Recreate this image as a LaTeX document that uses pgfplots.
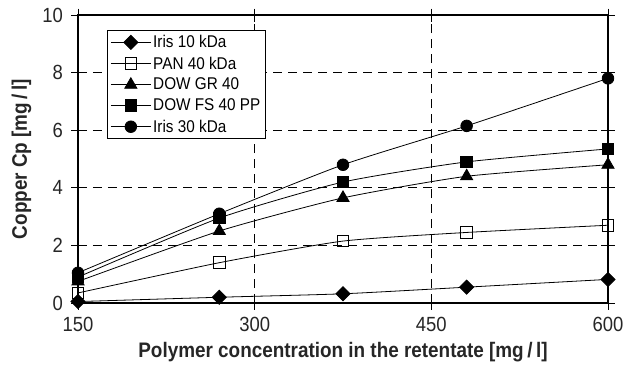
\documentclass[border=0pt]{standalone}
\usepackage{pgfplots}
\pgfplotsset{compat=1.18}
\usepackage{fontspec}
\setmainfont{Liberation Sans}[FakeStretch=0.9]
\begin{document}
\begin{tikzpicture}
% page frame around the 530 x 288 plot area
\useasboundingbox (-78pt,-62pt) rectangle (546pt,303pt);
\begin{axis}[
  scale only axis,
  width=530pt, height=288pt,
  xmin=150, xmax=600, ymin=0, ymax=10,
  xtick={150,300,450,600},
  ytick={0,2,4,6,8,10},
  tick align=center,
  major tick length=13pt,
  tick style={black, line width=0.9pt},
  axis line style={black, line width=1.1pt},
  grid=major,
  major grid style={dashed, dash pattern=on 9pt off 6pt, black, line width=0.9pt},
  /pgf/number format/assume math mode=true,
  ticklabel style={font=\fontsize{20.5}{22}\selectfont, text=black!85},
  xticklabel style={anchor=north, yshift=-4pt},
  yticklabel style={anchor=east, xshift=-5pt},
  xlabel={\textbf{Polymer concentration in the retentate [mg\,/\,l]}},
  ylabel={\textbf{Copper Cp [mg\,/\,l]}},
  every axis x label/.style={at={([yshift=-49pt]axis description cs:0.5,0)}, anchor=center,
    font=\fontsize{21}{23}\selectfont, text=black!85},
  every axis y label/.style={at={([xshift=-56.5pt]axis description cs:0,0.5)}, rotate=90, anchor=center,
    font=\fontsize{21}{23}\selectfont, text=black!85},
  legend style={at={(0.0547,0.948)}, anchor=north west, draw=black, line width=0.9pt,
    font=\fontsize{17}{19}\selectfont, row sep=3.5pt, fill=white,
    inner xsep=3pt, inner ysep=3pt},
  legend cell align=left,
  legend image code/.code={%
    \draw[mark repeat=2, mark phase=2] plot coordinates {(0pt,0pt) (20pt,0pt) (40pt,0pt)};},
  every axis plot/.append style={black, line width=0.8pt, smooth, tension=0.35},
]
\addplot[mark=square*, mark size=5pt, mark options={solid, rotate=45}] coordinates {
  (150,0.05) (270,0.2) (375,0.32) (480,0.55) (600,0.82)};
\addlegendentry{Iris 10 kDa}
\addplot[mark=square, mark size=5.8pt, mark options={solid, fill=white}] coordinates {
  (150,0.35) (270,1.4) (375,2.15) (480,2.45) (600,2.7)};
\addlegendentry{PAN 40 kDa}
\addplot[mark=triangle*, mark size=7pt] coordinates {
  (150,0.75) (270,2.5) (375,3.65) (480,4.4) (600,4.8)};
\addlegendentry{DOW GR 40}
\addplot[mark=square*, mark size=5.8pt] coordinates {
  (150,0.9) (270,2.95) (375,4.2) (480,4.9) (600,5.35)};
\addlegendentry{DOW FS 40 PP}
\addplot[mark=*, mark size=5.8pt] coordinates {
  (150,1.05) (270,3.1) (375,4.8) (480,6.15) (600,7.8)};
\addlegendentry{Iris 30 kDa}
\end{axis}
\end{tikzpicture}
\end{document}
